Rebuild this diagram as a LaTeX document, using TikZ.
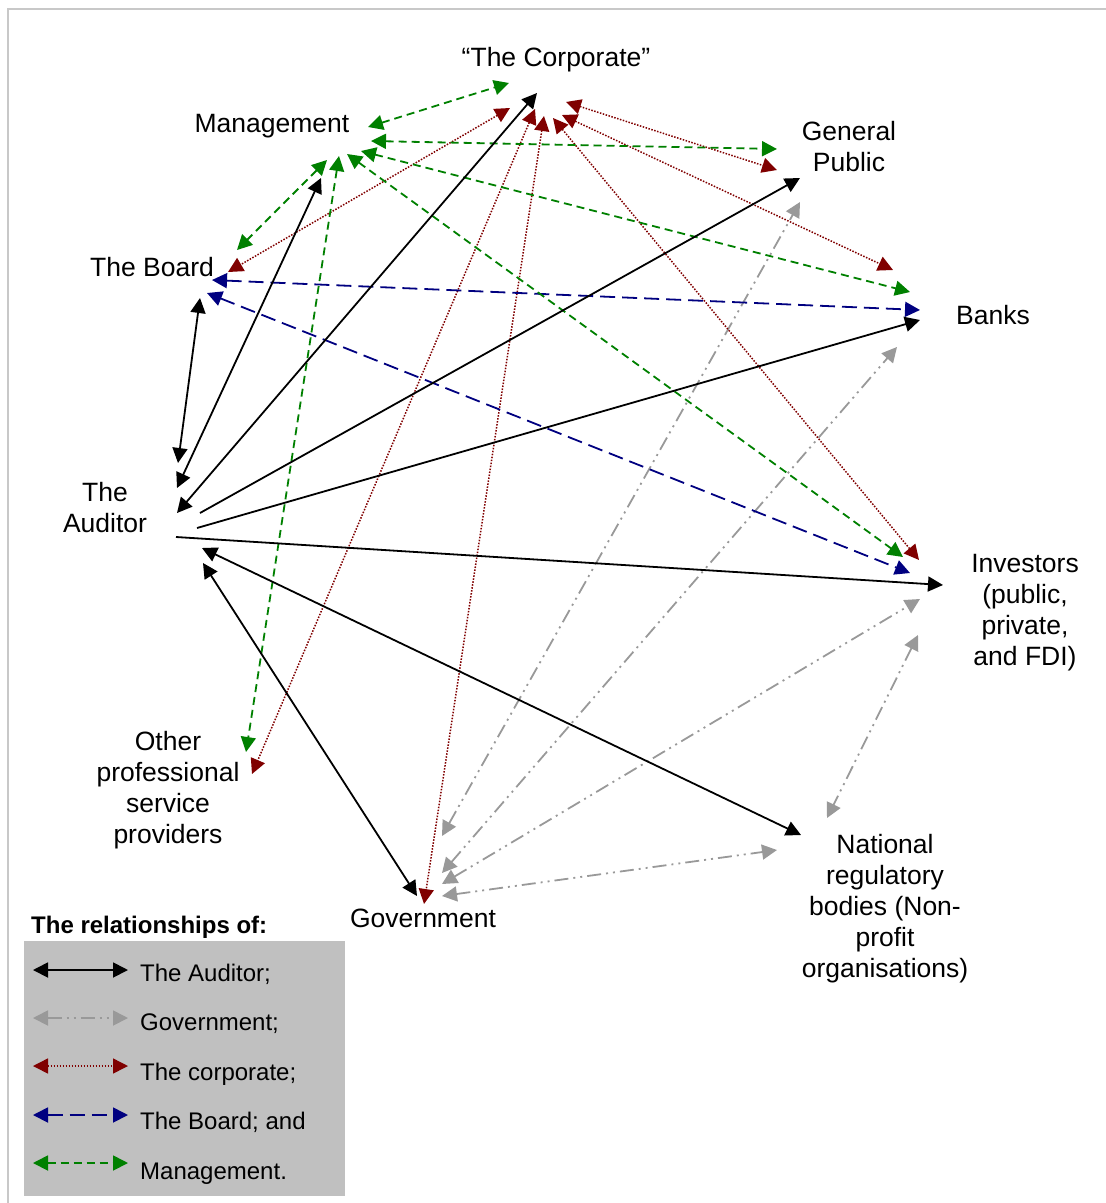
\documentclass[tikz,border=0pt]{standalone}
\usepackage{fontspec}
\setmainfont{Liberation Sans}
\usetikzlibrary{arrows.meta}

\definecolor{corpred}{RGB}{128,0,0}
\definecolor{boardblue}{RGB}{0,0,128}
\definecolor{mgmtgreen}{RGB}{0,128,0}
\definecolor{govgray}{RGB}{153,153,153}
\definecolor{legendgray}{RGB}{192,192,192}
\definecolor{framegray}{RGB}{200,200,200}

\tikzset{
  rel/.style={line width=1.8pt, >={Triangle[length=15pt,width=15pt]}},
  auditorrel/.style={rel, black},
  govrel/.style={rel, govgray, dash pattern=on 14pt off 5pt on 2pt off 5pt on 2pt off 5pt},
  corprel/.style={rel, corpred, line width=1.5pt, dash pattern=on 1.5pt off 1.5pt},
  boardrel/.style={rel, boardblue, dash pattern=on 15pt off 7pt},
  mgmtrel/.style={rel, mgmtgreen, dash pattern=on 8pt off 5pt},
  party/.style={font=\fontsize{26.5}{31}\selectfont, align=center, inner sep=0pt, anchor=base},
  keytext/.style={font=\fontsize{24}{28}\selectfont, inner sep=0pt, anchor=base west},
}

\begin{document}
\begin{tikzpicture}[x=1pt,y=-1pt]
\useasboundingbox (0,0) rectangle (1106,1203);

% frame
\draw[framegray, line width=2pt] (8,1203) -- (8,8.5) -- (1106,8.5);

% parties (each placed at the baseline of its last line)
\node[party] (crp) at (556,66) {``The Corporate''};
\node[party] (mgt) at (272,132) {Management};
\node[party] (gp)  at (849,171) {General\\Public};
\node[party] (brd) at (152,276) {The Board};
\node[party] (bnk) at (993,324) {Banks};
\node[party] (aud) at (105,532) {The\\Auditor};
\node[party] (inv) at (1025,665) {Investors\\(public,\\private,\\and FDI)};
\node[party] (opr) at (168,843) {Other\\professional\\service\\providers};
\node[party] (nrb) at (885,977) {National\\regulatory\\bodies (Non-\\profit\\organisations)};
\node[party] (gov) at (423,927) {Government};

% connector ends: the Auditor
\coordinate (aud-brd) at (178,463); \coordinate (brd-aud) at (200,298);
\coordinate (aud-mgt) at (177,488); \coordinate (mgt-aud) at (321,178);
\coordinate (aud-crp) at (177,513); \coordinate (crp-aud) at (537,93);
\coordinate (aud-gp)  at (200,513); \coordinate (gp-aud)  at (800,178);
\coordinate (aud-bnk) at (197,528); \coordinate (bnk-aud) at (920,320);
\coordinate (aud-inv) at (176,537); \coordinate (inv-aud) at (943,585);
\coordinate (aud-nrb) at (202,548); \coordinate (nrb-aud) at (801,835);
\coordinate (aud-gov) at (203,563); \coordinate (gov-aud) at (417,896);

% connector ends: Government
\coordinate (gov-gp)  at (442,836); \coordinate (gp-gov)  at (800,202);
\coordinate (gov-bnk) at (442,873); \coordinate (bnk-gov) at (897,347);
\coordinate (gov-inv) at (442,884); \coordinate (inv-gov) at (920,599);
\coordinate (gov-nrb) at (442,896); \coordinate (nrb-gov) at (777,850);
\coordinate (inv-nrb) at (918,635); \coordinate (nrb-inv) at (827,818);

% connector ends: the corporate
\coordinate (crp-brd) at (510,108); \coordinate (brd-crp) at (228,272);
\coordinate (crp-opr) at (535,109); \coordinate (opr-crp) at (252,774);
\coordinate (crp-gov) at (544,116); \coordinate (gov-crp) at (424,904);
\coordinate (crp-inv) at (553,118); \coordinate (inv-crp) at (919,560);
\coordinate (crp-bnk) at (562,115); \coordinate (bnk-crp) at (893,270);
\coordinate (crp-gp)  at (566,102); \coordinate (gp-crp)  at (777,170);

% connector ends: the Board
\coordinate (brd-bnk) at (212,280); \coordinate (bnk-brd) at (920,310);
\coordinate (brd-inv) at (207,293); \coordinate (inv-brd) at (910,573);

% connector ends: Management
\coordinate (mgt-crp) at (368,127); \coordinate (crp-mgt) at (509,83);
\coordinate (mgt-gp)  at (371,141); \coordinate (gp-mgt)  at (777,149);
\coordinate (mgt-bnk) at (361,151); \coordinate (bnk-mgt) at (910,292);
\coordinate (mgt-inv) at (347,154); \coordinate (inv-mgt) at (903,557);
\coordinate (mgt-opr) at (339,156); \coordinate (opr-mgt) at (246,752);
\coordinate (mgt-brd) at (327,160); \coordinate (brd-mgt) at (237,250);

% Government relationships
\draw[govrel,<->] (gov-gp)  -- (gp-gov);
\draw[govrel,<->] (gov-bnk) -- (bnk-gov);
\draw[govrel,<->] (gov-inv) -- (inv-gov);
\draw[govrel,<->] (gov-nrb) -- (nrb-gov);
\draw[govrel,<->] (inv-nrb) -- (nrb-inv);

% the corporate's relationships
\draw[corprel,<->] (crp-brd) -- (brd-crp);
\draw[corprel,<->] (crp-opr) -- (opr-crp);
\draw[corprel,<->] (crp-gov) -- (gov-crp);
\draw[corprel,<->] (crp-inv) -- (inv-crp);
\draw[corprel,<->] (crp-bnk) -- (bnk-crp);
\draw[corprel,<->] (crp-gp)  -- (gp-crp);

% the Board's relationships
\draw[boardrel,<->] (brd-bnk) -- (bnk-brd);
\draw[boardrel,<->] (brd-inv) -- (inv-brd);

% Management's relationships
\draw[mgmtrel,<->] (mgt-crp) -- (crp-mgt);
\draw[mgmtrel,<->] (mgt-gp)  -- (gp-mgt);
\draw[mgmtrel,<->] (mgt-bnk) -- (bnk-mgt);
\draw[mgmtrel,<->] (mgt-inv) -- (inv-mgt);
\draw[mgmtrel,<->] (mgt-opr) -- (opr-mgt);
\draw[mgmtrel,<->] (mgt-brd) -- (brd-mgt);

% the Auditor's relationships
\draw[auditorrel,<->] (aud-brd) -- (brd-aud);
\draw[auditorrel,<->] (aud-mgt) -- (mgt-aud);
\draw[auditorrel,<->] (aud-crp) -- (crp-aud);
\draw[auditorrel,->]  (aud-gp)  -- (gp-aud);
\draw[auditorrel,->]  (aud-bnk) -- (bnk-aud);
\draw[auditorrel,->]  (aud-inv) -- (inv-aud);
\draw[auditorrel,<->] (aud-nrb) -- (nrb-aud);
\draw[auditorrel,<->] (aud-gov) -- (gov-aud);

% key
\node[font=\bfseries\fontsize{24}{28}\selectfont, inner sep=0pt, anchor=base west] (keytitle) at (31,933) {The relationships of:};
\fill[legendgray] (24,941) rectangle (345,1196);
\coordinate (k1a) at (33,970);  \coordinate (k1b) at (128,970);
\coordinate (k2a) at (33,1018); \coordinate (k2b) at (128,1018);
\coordinate (k3a) at (33,1066); \coordinate (k3b) at (128,1066);
\coordinate (k4a) at (33,1115); \coordinate (k4b) at (128,1115);
\coordinate (k5a) at (33,1163); \coordinate (k5b) at (128,1163);
\draw[auditorrel,<->] (k1a) -- (k1b);
\draw[govrel,<->]     (k2a) -- (k2b);
\draw[corprel,<->]    (k3a) -- (k3b);
\draw[boardrel,<->]   (k4a) -- (k4b);
\draw[mgmtrel,<->]    (k5a) -- (k5b);
\node[keytext] (k1) at (140,981)  {The Auditor;};
\node[keytext] (k2) at (140,1030) {Government;};
\node[keytext] (k3) at (140,1080) {The corporate;};
\node[keytext] (k4) at (140,1129) {The Board; and};
\node[keytext] (k5) at (140,1179) {Management.};
\end{tikzpicture}
\end{document}
